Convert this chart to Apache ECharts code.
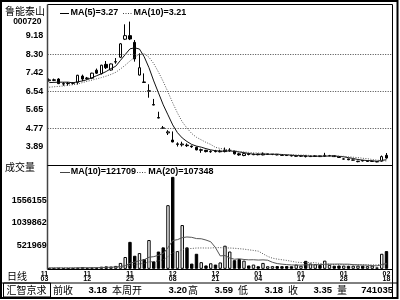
<!DOCTYPE html>
<html><head><meta charset="utf-8">
<script src="https://cdn.jsdelivr.net/npm/echarts@6/dist/echarts.min.js"></script>
<style>html,body{margin:0;padding:0;background:#fff}#c{width:400px;height:300px}</style>
</head><body><div id="c"></div>
<script>
const dates = ['11/03','11/04','11/05','11/06','11/07','11/08','11/09','11/10','11/11','11/12',
 '11/13','11/14','11/17','11/18','11/19','11/20','11/21','11/24','11/25',
 '11/26','11/27','11/28','12/01','12/02','12/03','12/04','12/05','12/08',
 '12/09','12/10','12/11','12/12','12/15','12/16','12/17','12/18','12/21',
 '12/22','12/23','12/24','12/25','12/26','12/29','12/30','12/31','01/04',
 '01/05','01/06','01/07','01/08','01/09','01/12','01/13','01/14','01/17',
 '01/18','01/19','01/20','01/21','01/22','01/23','01/24','01/25','01/28',
 '01/29','01/30','02/02','02/03','02/04','02/05','02/06','02/16','02/18'];
const opens = [null, 7.04,7.08,7.12,6.90,6.90,6.92,6.96,7.26,7.14,7.16,
 7.54,7.38,7.82,7.55,7.93,8.16,9.02,9.19,8.87,7.31,
 6.98,6.54,5.90,5.28,4.79,4.55,4.21,4.00,3.98,3.97,
 3.92,3.86,3.72,3.72,3.65,3.68,3.65,3.66,3.70,3.68,
 3.55,3.47,3.55,3.51,3.54,3.50,3.53,3.52,3.53,3.50,
 3.49,3.47,3.44,3.44,3.46,3.42,3.43,3.45,3.43,3.46,
 3.46,3.42,3.30,3.31,3.25,3.18,3.24,3.19,3.19,3.17,
 3.20,3.48];
const closes = [null, 7.08,7.06,6.90,6.88,6.92,6.93,7.30,7.12,7.17,7.40,
 7.40,7.78,7.66,7.84,7.95,8.80,9.19,9.03,8.08,7.66,
 6.96,6.56,5.88,5.26,4.77,4.60,4.12,4.03,4.02,3.94,
 3.89,3.74,3.75,3.66,3.67,3.66,3.68,3.72,3.73,3.55,
 3.50,3.56,3.52,3.54,3.51,3.55,3.54,3.53,3.50,3.48,
 3.47,3.45,3.45,3.46,3.42,3.44,3.45,3.42,3.48,3.47,
 3.42,3.38,3.31,3.27,3.26,3.20,3.21,3.21,3.20,3.18,
 3.42,3.35];
const lows = [null, 7.00,7.02,6.88,6.80,6.80,6.85,6.86,7.02,7.08,7.12,
 7.36,7.34,7.60,7.52,7.85,8.12,8.98,8.98,7.95,7.29,
 6.95,6.23,5.87,5.25,4.76,4.45,4.10,3.90,3.90,3.88,
 3.84,3.72,3.60,3.62,3.60,3.62,3.62,3.62,3.65,3.52,
 3.46,3.44,3.48,3.49,3.48,3.48,3.50,3.49,3.48,3.46,
 3.45,3.43,3.42,3.40,3.38,3.40,3.41,3.40,3.42,3.43,
 3.40,3.36,3.28,3.25,3.23,3.15,3.19,3.18,3.18,3.15,
 3.18,3.32];
const highs = [null, 7.15,7.14,7.16,6.97,6.98,6.97,7.32,7.33,7.22,7.42,
 7.62,7.80,7.98,7.86,8.12,8.84,9.73,9.86,8.98,8.35,
 7.39,6.87,6.17,5.56,4.88,4.68,4.62,4.10,4.13,4.05,
 3.95,3.90,3.80,3.74,3.72,3.74,3.75,3.85,3.82,3.70,
 3.60,3.60,3.56,3.57,3.56,3.62,3.56,3.55,3.54,3.52,
 3.50,3.49,3.48,3.48,3.47,3.47,3.48,3.46,3.60,3.50,
 3.47,3.43,3.34,3.32,3.28,3.22,3.25,3.23,3.22,3.20,
 3.47,3.59];
const volumes = [null, 18000,15000,22000,14000,12000,16000,25000,40000,20000,30000,
 28000,48000,55000,50000,65000,133000,267000,610000,296000,356000,
 222000,651000,169000,391000,485000,1440000,2080000,400000,990000,485000,
 118000,340000,150000,76000,125000,96000,144000,523000,391000,195000,
 222000,185000,76000,96000,58000,133000,58000,60000,62000,60000,
 62000,58000,96000,70000,180000,120000,105000,88000,185000,90000,
 70000,75000,72000,68000,70000,72000,70000,60000,72000,32000,
 340000,401035];
const ma5 = [null, 6.95,6.96,6.97,6.97,6.97,6.94,6.99,7.03,7.09,7.18,
 7.28,7.37,7.48,7.62,7.73,8.01,8.29,8.56,8.61,8.55,
 8.18,7.66,7.03,6.46,5.89,5.41,4.93,4.56,4.31,4.14,
 4.00,3.92,3.87,3.80,3.74,3.70,3.68,3.68,3.69,3.67,
 3.64,3.61,3.57,3.53,3.53,3.54,3.53,3.53,3.53,3.52,
 3.50,3.49,3.47,3.46,3.45,3.44,3.44,3.44,3.44,3.45,
 3.45,3.43,3.41,3.37,3.33,3.28,3.25,3.23,3.22,3.20,
 3.24,3.27];
const ma10 = [null, 6.73,6.75,6.77,6.79,6.82,6.85,6.89,6.95,7.01,7.07,
 7.13,7.19,7.26,7.34,7.44,7.60,7.78,7.98,8.16,8.30,
 8.32,8.16,7.86,7.45,7.00,6.50,5.98,5.50,5.08,4.78,
 4.52,4.34,4.22,4.10,4.00,3.86,3.81,3.77,3.73,3.70,
 3.66,3.64,3.62,3.60,3.59,3.58,3.57,3.55,3.53,3.52,
 3.52,3.51,3.50,3.49,3.49,3.47,3.47,3.45,3.45,3.45,
 3.45,3.44,3.43,3.41,3.39,3.37,3.34,3.32,3.28,3.25,
 3.23,3.21];
const volMa10 = [null, 20000,20000,20000,20000,20000,20000,21000,23000,24000,25000,
 26000,29000,33000,36000,41000,52000,74000,125000,152000,185000,
 205000,262000,275000,305000,345000,480000,640000,660000,705000,720000,
 712000,684000,680000,651000,612000,480000,292000,300000,245000,216000,
 226000,211000,203000,205000,198000,202000,194000,147000,118000,105000,
 95000,88000,85000,84000,90000,90000,92000,94000,102000,105000,
 106000,108000,105000,105000,94000,90000,86000,83000,72000,66000,
 93000,121709];
const volMa20 = [null, 18000,18000,18000,19000,19000,19000,20000,21000,21000,22000,
 23000,24000,26000,28000,30000,36000,49000,80000,95000,113000,
 124000,155000,163000,180000,205000,275000,369000,385000,432000,456000,
 460000,470000,472000,470000,470000,480000,478000,475000,470000,465000,
 455000,445000,430000,415000,400000,340000,280000,240000,220000,205000,
 190000,170000,150000,142000,140000,140000,138000,120000,110000,104000,
 98000,94000,92000,91000,90000,89000,89000,89000,89000,88000,
 98000,107348];
const priceTicks = [9.18, 8.30, 7.42, 6.54, 5.65, 4.77, 3.89];
const priceGridLevels = [8.30, 6.54, 4.77];
const volTicks = [521969, 1039862, 1556155];
const statusItems = [
  {t:'前收', x:53, a:'left', cjk:true}, {t:'3.18', x:107, a:'right'},
  {t:'本周开', x:112, a:'left', cjk:true}, {t:'3.20', x:187, a:'right'},
  {t:'高', x:188, a:'left', cjk:true}, {t:'3.59', x:233, a:'right'},
  {t:'低', x:238, a:'left', cjk:true}, {t:'3.18', x:283, a:'right'},
  {t:'收', x:288, a:'left', cjk:true}, {t:'3.35', x:332, a:'right'},
  {t:'量', x:337, a:'left', cjk:true}, {t:'741035', x:393, a:'right'}
];

const NUMF = '"Liberation Sans", Arial, sans-serif';
const CJKF = '"Noto Sans CJK SC", sans-serif';
const numFont = 'bold 9px ' + NUMF;
const cjkFont = '10px ' + CJKF;
const last = ma5.length - 1;

const candleData = opens.map((o, i) => o == null ? ['-','-','-','-'] : [o, closes[i], lows[i], highs[i]]);
const volData = volumes.map((v, i) => v == null ? '-' : {
  value: v,
  itemStyle: closes[i] >= opens[i]
    ? {color:'#fff', borderColor:'#000', borderWidth:1}
    : {color:'#000', borderColor:'#000', borderWidth:1}
});

function txt(t, x, y, font, align) {
  return {type:'text', x:x, y:y, silent:true, z:10,
    style:{text:t, font:font, fill:'#000', textAlign:align||'left', textVerticalAlign:'middle', verticalAlign:'middle'}};
}
function ln(x1,y1,x2,y2,color,w,dash) {
  return {type:'line', silent:true, z:9, shape:{x1,y1,x2,y2},
    style:{stroke:color||'#000', lineWidth:w||1, lineDash:dash||null}};
}

const graphics = [
  {type:'rect', silent:true, z:9, shape:{x:1, y:1, width:396.5, height:297}, style:{fill:'none', stroke:'#000', lineWidth:2}},
  ln(392.5, 4.5, 392.5, 298, '#000', 1),
  ln(47.5, 4.5, 392.5, 4.5, '#000', 1),
  ln(47.5, 4.5, 47.5, 269.5, '#444', 1.5),
  ln(47.5, 165.5, 392.5, 165.5, '#000', 1),
  ln(47.5, 269.5, 392.5, 269.5, '#000', 1),
  ln(1, 283, 398, 283, '#000', 1),
  {type:'rect', silent:true, z:9, shape:{x:3.5, y:283, width:47, height:14}, style:{fill:'none', stroke:'#000', lineWidth:1}},
  txt('鲁能泰山', 5, 11.5, cjkFont),
  txt('000720', 41.5, 21.5, 'bold 8.5px ' + NUMF, 'right'),
  ln(60, 13.5, 69, 13.5, '#000', 1),
  txt('MA(5)=' + ma5[last].toFixed(2), 70.5, 13, numFont),
  ln(123, 13.5, 133, 13.5, '#444', 1, [1,1.5]),
  txt('MA(10)=' + ma10[last].toFixed(2), 133.5, 13, numFont),
  txt('成交量', 5, 167.5, cjkFont),
  ln(60, 172.5, 70, 172.5, '#444', 1),
  txt('MA(10)=' + volMa10[last], 70.7, 172, numFont),
  ln(137, 172.5, 147, 172.5, '#444', 1, [1,1.5]),
  txt('MA(20)=' + volMa20[last], 148.3, 172, numFont),
  txt('日线', 7, 276, cjkFont),
  txt('汇智京求', 6.5, 290, cjkFont)
];
statusItems.forEach(s => graphics.push(txt(s.t, s.x, 290, s.cjk ? cjkFont : 'bold 9.5px ' + NUMF, s.a)));

const chart = echarts.init(document.getElementById('c'), null, {renderer:'canvas'});
chart.setOption({
  animation: false,
  backgroundColor: '#fff',
  grid: [
    {left: 42.1, top: 5, width: 346.75, height: 160},
    {left: 42.1, top: 165, width: 346.75, height: 103.8},
    {left: 47.7, top: 5, width: 345, height: 160}
  ],
  xAxis: [
    {type:'category', gridIndex:0, data:dates, boundaryGap:true, show:false},
    {type:'category', gridIndex:1, data:dates, boundaryGap:true,
      axisLine:{show:false}, axisTick:{show:false}, splitLine:{show:false},
      axisLabel:{interval:8, formatter: v => v.replace('/', '\n'), fontSize:7, lineHeight:5,
        margin:2.3, color:'#000', fontWeight:'bold', fontFamily:NUMF}},
    {type:'value', gridIndex:2, min:0, max:1, show:false}
  ],
  yAxis: [
    {type:'value', gridIndex:0, min:3.019, max:10.652,
      axisLine:{show:false}, axisTick:{show:false}, splitLine:{show:false},
      axisLabel:{customValues: priceTicks, formatter: v => Number(v).toFixed(2), margin:-1.2,
        fontSize:9, fontWeight:'bold', fontFamily:NUMF, color:'#000'}},
    {type:'value', gridIndex:1, min:0, max:2349000,
      axisLine:{show:false}, axisTick:{show:false}, splitLine:{show:false},
      axisLabel:{customValues: volTicks, formatter: v => String(Math.round(v)), margin:-4.6,
        fontSize:9, fontWeight:'bold', fontFamily:NUMF, color:'#000'}},
    {type:'value', gridIndex:2, min:3.019, max:10.652, show:false}
  ],
  series: [
    {type:'line', xAxisIndex:2, yAxisIndex:2, data:[], silent:true,
      markLine:{silent:true, symbol:'none', label:{show:false},
        lineStyle:{type:[1,1.5], color:'#444', width:1},
        data: priceGridLevels.map(v => ({yAxis: v}))}},
    {type:'candlestick', xAxisIndex:0, yAxisIndex:0, data:candleData, barWidth:3, silent:true,
      itemStyle:{color:'#fff', color0:'#000', borderColor:'#000', borderColor0:'#000', borderColorDoji:'#000', borderWidth:1}},
    {type:'line', xAxisIndex:0, yAxisIndex:0, data:ma5, showSymbol:false, silent:true,
      lineStyle:{color:'#111', width:1}},
    {type:'line', xAxisIndex:0, yAxisIndex:0, data:ma10, showSymbol:false, silent:true,
      lineStyle:{color:'#555', width:1, type:[1,1.5]}},
    {type:'bar', xAxisIndex:1, yAxisIndex:1, data:volData, barWidth:3.4, silent:true},
    {type:'line', xAxisIndex:1, yAxisIndex:1, data:volMa10, showSymbol:false, silent:true,
      lineStyle:{color:'#555', width:1}},
    {type:'line', xAxisIndex:1, yAxisIndex:1, data:volMa20, showSymbol:false, silent:true,
      lineStyle:{color:'#555', width:1, type:[1,1.5]}}
  ],
  graphic: graphics
});
</script></body></html>
